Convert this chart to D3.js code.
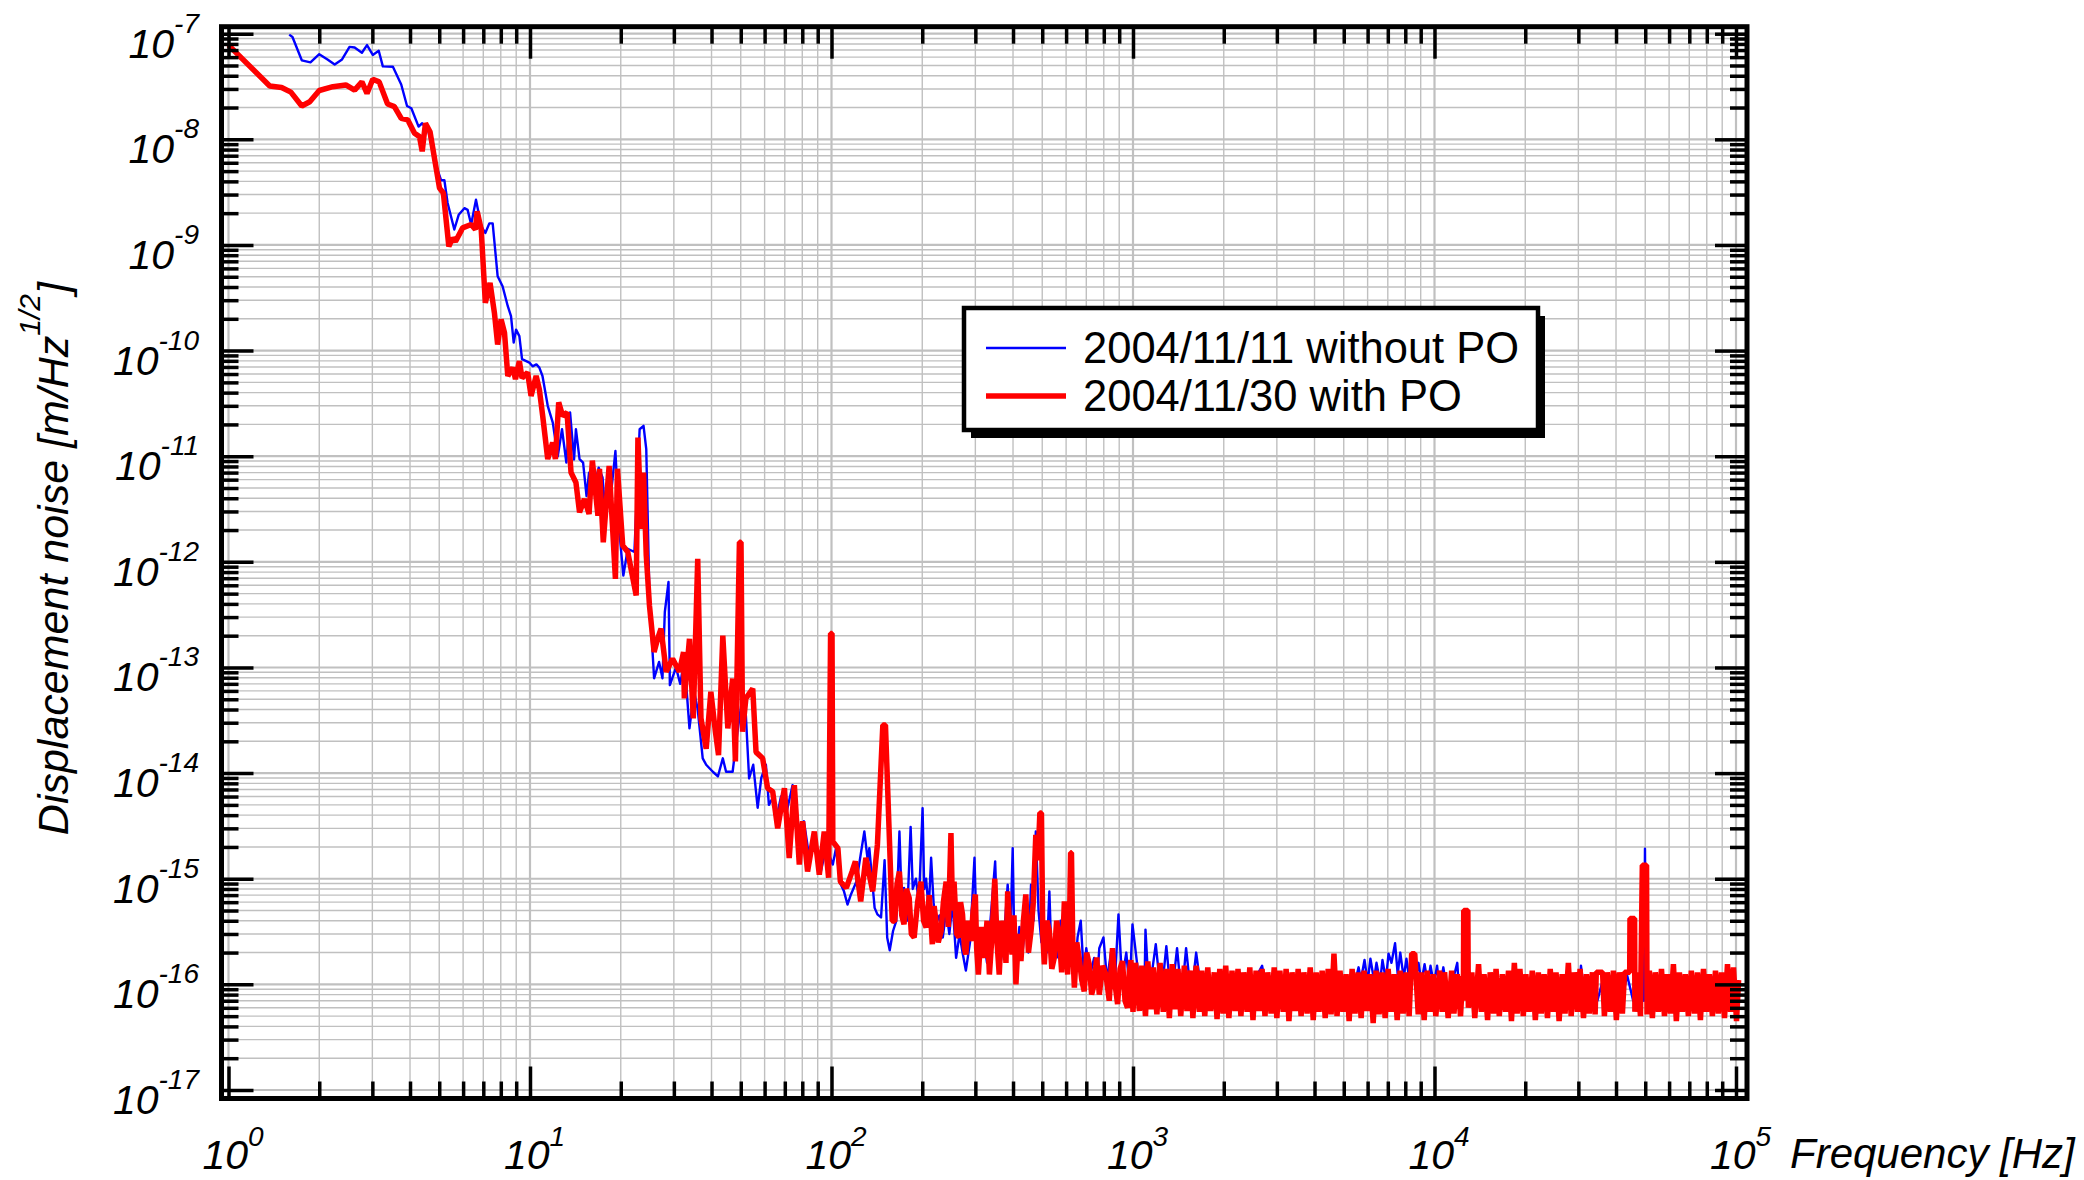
<!DOCTYPE html>
<html>
<head>
<meta charset="utf-8">
<script src="https://cdn.jsdelivr.net/npm/d3@7"></script>
<style>
  body { margin: 0; background: #fff; }
  svg { display: block; }
  text { font-family: "Liberation Sans", Arial, sans-serif; fill: #000; }
</style>
</head>
<body>
<svg width="2084" height="1180"></svg>
<script>
// tick exponents
var xTickExps = [0, 1, 2, 3, 4, 5];
var yTickExps = [-7, -8, -9, -10, -11, -12, -13, -14, -15, -16, -17];

var legendLabels = ["2004/11/11 without PO", "2004/11/30 with PO"];

// [frequency Hz, displacement noise m/Hz^1/2]
var blueLow = [[1.59,9.8e-8],[1.63,9.3e-8],[1.75,5.6e-8],[1.87,5.35e-8],[2.0,6.4e-8],[2.13,5.7e-8],[2.25,5.1e-8],[2.38,5.7e-8],[2.52,7.5e-8],[2.62,7.4e-8],[2.77,6.6e-8],[2.88,7.8e-8],[3.01,6.3e-8],[3.15,6.9e-8],[3.25,4.9e-8],[3.51,4.86e-8],[3.74,3.3e-8],[3.91,2.07e-8],[4.04,1.97e-8],[4.27,1.32e-8],[4.39,1.42e-8],[4.6,1.2e-8],[4.85,6e-9],[5.07,4.1e-9],[5.2,4.1e-9],[5.33,2.5e-9],[5.61,1.4e-9],[5.8,1.93e-9],[6.06,2.23e-9],[6.21,2.15e-9],[6.38,1.56e-9],[6.62,2.68e-9],[6.89,1.5e-9],[7.11,1.3e-9],[7.33,1.6e-9],[7.52,1.6e-9],[7.81,5.06e-10],[8.11,4.07e-10],[8.44,2.63e-10],[8.65,2.12e-10],[8.83,1.19e-10],[8.99,1.58e-10],[9.22,1.37e-10],[9.41,8.3e-11],[9.95,7.7e-11],[10.2,7.1e-11],[10.5,7.4e-11],[10.74,6.9e-11],[11.0,5.75e-11],[11.45,3.0e-11],[11.9,2.08e-11],[12.36,1.0e-11],[12.77,1.8e-11],[13.2,8.7e-12],[13.58,2.6e-11],[14.0,9.3e-12],[14.2,1.8e-11],[14.6,9.4e-12],[15.0,8.7e-12],[15.4,4.2e-12],[15.7,7.0e-12],[16.3,5e-12],[16.9,7.8e-12],[17.4,6.3e-12],[17.7,3.4e-12],[18.5,4e-12],[19.2,1.12e-11],[19.8,1.9e-12],[20.4,7.4e-13],[21.1,1.33e-12],[22.2,1.24e-12],[23.1,1.8e-11],[23.8,1.94e-11],[24.3,1.17e-11],[24.9,4.5e-13],[25.8,7.9e-14],[26.8,1.13e-13],[27.5,7.9e-14],[28.0,3.35e-13],[28.8,6.45e-13],[29.1,6.8e-14],[30.5,1.0e-13],[31.5,7.0e-14],[32.5,1.2e-13],[33.8,2.65e-14],[35.0,6.0e-14],[36.0,4e-14],[37.4,1.38e-14],[38.4,1.2e-14],[40.4,1.03e-14],[42.0,9.3e-15],[43.6,1.38e-14],[44.7,1.03e-14],[47.0,1.03e-14],[48.8,2.5e-14],[50.5,5e-14],[52.0,3.5e-14],[53.3,8.9e-15],[55.0,1.2e-14],[56.9,4.7e-15],[58.5,9e-15],[60.6,1.2e-14],[62.0,5e-15],[63.8,5.8e-15],[66.0,4e-15],[68.0,6e-15],[70.6,4.0e-15],[74.3,7.7e-15],[78.2,2.8e-15],[81.0,3.5e-15],[84.4,1.58e-15],[88.0,2.5e-15],[92.2,1.17e-15],[96.0,2e-15],[101,1.36e-15],[103.5,1.95e-15],[107,9e-16],[110,7.6e-16],[113,5.7e-16],[116,7.1e-16],[121,9.4e-16],[125,1.7e-15],[128.5,2.8e-15],[132,1.46e-15],[133.5,1.95e-15],[139,5.3e-16],[142,4.6e-16],[146,4.3e-16],[150,1.5e-15],[153,2.78e-16],[156,2.1e-16],[160,3.2e-16],[164,4e-16],[168,2.8e-15],[171,6e-16],[174,8.2e-16],[178,4e-16],[183,3.1e-15],[186,8e-16],[190.5,1.0e-15],[195,6e-16],[200.5,4.66e-15],[203,8e-16],[206,1.0e-15],[210,5e-16],[214,1.58e-15],[218,6e-16],[222,3.7e-16],[228,4.5e-16],[234,2.78e-16],[240,5e-16],[246,3e-16],[252,6e-16],[259,1.78e-16],[266,3e-16],[272,2e-16],[279,1.35e-16],[288,2.5e-16],[298,1.58e-15],[303,3e-16],[309,2.2e-16],[318,3e-16],[328,1.6e-16],[338,4.6e-16],[349,1.46e-15],[356,2.5e-16],[364,1.6e-16],[374,3e-16],[384,8.8e-16],[392,3e-16],[399,1.95e-15],[404,2.5e-16],[409,1.5e-16],[420,3.5e-16],[430,2e-16],[440,4e-16],[450,2e-16],[459,8.8e-16],[468,4e-16],[476,2.8e-15],[486,5e-16],[497,2.5e-16],[508,3e-16],[518,2e-16],[528,7.6e-16],[538,1.45e-16],[550,3e-16],[562,1.8e-16],[575,4e-16],[588,1.5e-16],[600,3e-16],[612,1.4e-16],[625,2.5e-16],[640,1.2e-16],[655,2.8e-16],[671,4.0e-16],[686,1.3e-16],[700,2.2e-16],[720,1.2e-16],[743,1.78e-16],[760,1.05e-16],[773,2.2e-16],[798,2.78e-16],[820,1.1e-16],[845,2e-16],[870,1e-16],[895,4.6e-16],[920,1.1e-16],[950,2e-16],[975,9e-17],[996,3.7e-16]];

var blueHigh = [[1040,1.3e-16],[1090,7e-17],[1100,3.3e-16],[1130,8e-17],[1190,2.4e-16],[1240,7.5e-17],[1290,2.3e-16],[1340,7e-17],[1400,2.2e-16],[1450,7.5e-17],[1500,2.2e-16],[1560,7.5e-17],[1620,2.0e-16],[1700,7e-17],[1780,1.25e-16],[1860,7.5e-17],[1950,1.3e-16],[2040,7e-17],[2140,1.2e-16],[2240,7.8e-17],[2340,1.25e-16],[2450,7e-17],[2570,1.2e-16],[2680,1.5e-16],[2810,7.2e-17],[2940,1.2e-16],[3080,7.5e-17],[3220,1.15e-16],[3370,7e-17],[3530,1.2e-16],[3700,7.5e-17],[3870,1.15e-16],[4050,7e-17],[4240,1.2e-16],[4440,7.5e-17],[4650,1.15e-16],[4870,7.2e-17],[5100,1.2e-16],[5340,8e-17],[5600,1.45e-16],[5700,1.1e-16],[5860,1.7e-16],[6000,1.05e-16],[6130,1.75e-16],[6300,1.1e-16],[6420,1.6e-16],[6600,1.05e-16],[6720,1.7e-16],[6900,1.1e-16],[7040,1.95e-16],[7200,1.6e-16],[7400,2.45e-16],[7550,1.25e-16],[7700,2.0e-16],[7900,1.15e-16],[8070,1.75e-16],[8250,1.1e-16],[8450,1.65e-16],[8650,1.1e-16],[8850,1.6e-16],[9050,1.05e-16],[9270,1.55e-16],[9500,1.0e-16],[9700,1.5e-16],[9950,1.0e-16],[10200,1.5e-16],[10400,9e-17],[10700,1.45e-16],[11000,8.5e-17],[11600,1.2e-16],[11900,1.6e-16],[12100,7.5e-17],[12700,1.15e-16],[13300,7e-17],[13900,1.2e-16],[14600,7.2e-17],[15300,1.15e-16],[16000,7e-17],[16700,1.2e-16],[17500,7.5e-17],[18300,1.15e-16],[19200,7e-17],[20100,1.15e-16],[21000,7e-17],[22000,1.2e-16],[23000,7.2e-17],[24100,1.15e-16],[25200,6.8e-17],[26400,1.2e-16],[27600,7e-17],[28900,1.15e-16],[30200,7e-17],[30600,1.5e-16],[31600,7.2e-17],[33100,1.2e-16],[34700,7e-17],[36300,1.15e-16],[38000,7e-17],[39800,1.15e-16],[41600,7.2e-17],[43600,1.2e-16],[45600,7e-17],[47700,1.15e-16],[49500,7e-17],[49900,1.93e-15],[50300,7e-17],[52300,1.15e-16],[54700,7e-17],[57300,1.2e-16],[60000,7e-17],[62800,1.15e-16],[65700,7.2e-17],[68800,1.2e-16],[72000,7e-17],[75400,1.15e-16],[78900,7e-17],[82600,1.2e-16],[86400,7.2e-17],[90500,1.15e-16],[94700,7e-17],[99100,1.15e-16],[101500,8e-17]];

var redLow = [[1.0,7.8e-8],[1.37,3.2e-8],[1.5,3.1e-8],[1.61,2.8e-8],[1.75,2.07e-8],[1.86,2.27e-8],[2.0,2.9e-8],[2.22,3.15e-8],[2.45,3.27e-8],[2.62,2.92e-8],[2.77,3.5e-8],[2.88,2.72e-8],[3.01,3.7e-8],[3.16,3.5e-8],[3.37,2.16e-8],[3.55,2.04e-8],[3.74,1.58e-8],[3.93,1.53e-8],[4.14,1.14e-8],[4.3,1.06e-8],[4.39,7.7e-9],[4.5,1.42e-8],[4.66,1.18e-8],[5.01,3.45e-9],[5.16,3.1e-9],[5.38,9.7e-10],[5.54,1.16e-9],[5.66,1.08e-9],[5.98,1.45e-9],[6.38,1.56e-9],[6.59,1.4e-9],[6.68,2.08e-9],[6.89,1.4e-9],[7.11,2.83e-10],[7.37,4.37e-10],[7.62,2.28e-10],[7.81,1.14e-10],[8.02,1.97e-10],[8.23,1.48e-10],[8.44,5.75e-11],[8.77,6.9e-11],[8.95,5.37e-11],[9.22,7.96e-11],[9.41,5.5e-11],[9.82,6.2e-11],[10.08,3.72e-11],[10.48,5.75e-11],[10.74,4.3e-11],[11.02,2.4e-11],[11.45,9.4e-12],[11.89,1.35e-11],[12.14,9.4e-12],[12.45,3.24e-11],[12.83,2.4e-11],[13.27,2.6e-11],[13.68,7.0e-12],[14.2,5.65e-12],[14.6,2.94e-12],[15.15,3.94e-12],[15.7,2.84e-12],[16.1,9.1e-12],[16.8,2.73e-12],[17.0,7.6e-12],[17.5,1.53e-12],[18.3,8.1e-12],[19.2,6.9e-13],[19.5,7.6e-12],[20.3,1.43e-12],[21.1,1.24e-12],[22.5,4.8e-13],[22.8,1.5e-11],[23.4,2.05e-12],[23.8,7.0e-12],[24.3,1.15e-12],[24.9,3.87e-13],[25.8,1.4e-13],[26.5,1.87e-13],[27.2,2.33e-13],[28.3,9.1e-14],[29.7,1.21e-13],[31.3,9.1e-14],[32.3,1.4e-13],[32.5,5.1e-14],[33.8,1.87e-13],[34.8,3.3e-14],[36.0,1.07e-12],[36.9,3.3e-14],[38.4,1.7e-14],[39.8,5.9e-14],[41.2,2.47e-14],[42.2,1.48e-14],[43.6,2.0e-13],[45.3,2.65e-14],[47.0,7.85e-14],[48.0,1.29e-14],[49.5,1.53e-12],[50.1,1.53e-12],[50.7,2.47e-14],[52.0,5.1e-14],[54.8,6.3e-14],[56.2,1.58e-14],[59.1,1.38e-14],[61.4,7.2e-15],[63.8,6.7e-15],[66.3,3.0e-15],[69.8,7.2e-15],[72.4,1.57e-15],[75.3,7.7e-15],[78.2,1.36e-15],[80.2,3.5e-15],[83.3,1.17e-15],[87.7,2.8e-15],[91.1,1.09e-15],[94.6,2.8e-15],[97.8,1.02e-15],[99.3,2.1e-13],[100.4,2.1e-13],[101,2.25e-15],[105,1.95e-15],[107,9.4e-16],[112,8.2e-16],[117,1.17e-15],[120,1.46e-15],[125,6.1e-16],[130,1.58e-15],[137,7.6e-16],[142,2.1e-15],[148,2.85e-14],[151,2.85e-14],[156,1.95e-15],[159,4e-16],[162,3.95e-16],[165,9e-16],[168,1.17e-15],[171,4.5e-16],[174,3.7e-16],[177,8e-16],[181,6.6e-16],[184,3e-16],[188,2.78e-16],[193,6e-16],[198,9.4e-16],[202,4e-16],[206,3.45e-16],[211,7e-16],[216,2.4e-16],[219,5.5e-16],[222,4.0e-16],[226,2.5e-16],[231,3.2e-16],[235,6e-16],[240,9.4e-16],[244,3.5e-16],[249,2.7e-15],[252,5e-16],[255,9.4e-16],[260,3e-16],[265,2.78e-16],[268,6e-16],[272,4.6e-16],[276,2.2e-16],[279,1.92e-16],[284,4e-16],[290,2.57e-16],[295,5e-16],[300,7.1e-16],[303,2.2e-16],[307,1.24e-16],[314,3.5e-16],[321,1.78e-16],[328,4e-16],[334,1.24e-16],[341,3e-16],[348,1.0e-15],[354,2.5e-16],[360,1.24e-16],[367,4e-16],[374,3.2e-16],[379,1.6e-16],[384,7.6e-16],[391,3e-16],[397,1.92e-16],[403,4.5e-16],[409,1.0e-16],[417,3e-16],[425,1.66e-16],[433,4e-16],[441,7.1e-16],[450,2e-16],[459,3.2e-16],[467,6e-16],[476,2.6e-15],[484,1.5e-15],[491,4.2e-15],[497,4.2e-15],[502,3e-16],[508,1.55e-16],[518,4e-16],[528,3.2e-16],[538,1.4e-16],[548,1.78e-16],[558,4e-16],[569,2.95e-16],[580,1.3e-16],[592,6.1e-16],[600,2.5e-16],[607,1.24e-16],[615,3e-16],[621,1.76e-15],[625,1.76e-15],[632,2e-16],[639,9.3e-17],[651,2.5e-16],[663,1.78e-16],[676,1.1e-16],[689,8.6e-17],[702,2e-16],[716,1.55e-16],[729,8e-17],[743,1.0e-16],[758,1.8e-16],[773,8.0e-17],[793,1.5e-16],[813,1.24e-16],[834,7e-17],[855,2.2e-16],[872,1e-16],[889,6.5e-17],[906,1.4e-16],[923,1.66e-16],[941,7e-17],[959,6.0e-17],[972,1.3e-16],[984,1.7e-16]];

var redHigh = [[1000,5.5e-17],[1020,1.6e-16],[1050,5.6e-17],[1070,1.5e-16],[1100,5e-17],[1120,1.65e-16],[1150,5.8e-17],[1170,1.45e-16],[1200,5.2e-17],[1230,1.6e-16],[1260,5.5e-17],[1290,1.4e-16],[1320,4.8e-17],[1350,1.55e-16],[1380,5.8e-17],[1410,1.4e-16],[1440,5e-17],[1480,1.5e-16],[1510,5.6e-17],[1550,1.35e-16],[1580,4.8e-17],[1620,1.5e-16],[1660,5.5e-17],[1690,1.35e-16],[1730,5e-17],[1770,1.45e-16],[1810,5.6e-17],[1860,1.3e-16],[1900,4.7e-17],[1940,1.4e-16],[1990,5.3e-17],[2030,1.5e-16],[2080,4.8e-17],[2130,1.35e-16],[2180,5.6e-17],[2230,1.4e-16],[2280,5e-17],[2330,1.3e-16],[2390,5.5e-17],[2440,1.45e-16],[2500,4.6e-17],[2560,1.35e-16],[2620,5.6e-17],[2680,1.4e-16],[2740,5e-17],[2800,1.3e-16],[2870,5.3e-17],[2940,1.45e-16],[3000,4.8e-17],[3070,1.35e-16],[3150,5.5e-17],[3220,1.4e-16],[3290,4.5e-17],[3370,1.3e-16],[3450,5.6e-17],[3530,1.4e-16],[3610,5e-17],[3690,1.3e-16],[3780,5.3e-17],[3870,1.45e-16],[3960,4.6e-17],[4050,1.3e-16],[4140,5.5e-17],[4240,1.35e-16],[4340,4.8e-17],[4440,1.4e-16],[4540,5.2e-17],[4640,1.95e-16],[4750,5e-17],[4860,1.35e-16],[4970,5.5e-17],[5090,1.25e-16],[5210,4.5e-17],[5330,1.4e-16],[5450,5.3e-17],[5580,1.3e-16],[5710,4.8e-17],[5840,1.35e-16],[5980,5.6e-17],[6110,1.25e-16],[6260,4.3e-17],[6400,1.35e-16],[6550,5.2e-17],[6700,1.3e-16],[6860,4.8e-17],[7020,1.4e-16],[7180,5.5e-17],[7350,1.25e-16],[7520,4.6e-17],[7690,1.35e-16],[7870,5.3e-17],[8050,1.3e-16],[8240,5e-17],[8400,1.95e-16],[8600,1.95e-16],[8830,5.2e-17],[9030,1.3e-16],[9240,4.6e-17],[9450,1.35e-16],[9670,5.5e-17],[9900,1.25e-16],[10100,5e-17],[10400,1.35e-16],[10600,5.5e-17],[10800,1.3e-16],[11100,4.8e-17],[11400,1.35e-16],[11600,5.3e-17],[11900,1.25e-16],[12200,5e-17],[12400,1.2e-16],[12470,7e-17],[12500,5.0e-16],[12900,5.0e-16],[12950,6e-17],[13300,1.3e-16],[13600,4.8e-17],[14000,1.55e-16],[14300,5.5e-17],[14600,1.25e-16],[15000,4.6e-17],[15300,1.3e-16],[15700,5.3e-17],[16000,1.4e-16],[16400,5e-17],[16800,1.25e-16],[17200,5.5e-17],[17600,1.35e-16],[18000,4.5e-17],[18400,1.6e-16],[18800,5.3e-17],[19200,1.4e-16],[19700,5e-17],[20100,1.25e-16],[20600,5.5e-17],[21100,1.35e-16],[21600,4.6e-17],[22100,1.3e-16],[22600,5.3e-17],[23100,1.25e-16],[23700,4.8e-17],[24200,1.4e-16],[24800,5.5e-17],[25300,1.3e-16],[25900,4.5e-17],[26500,1.25e-16],[27100,5.3e-17],[27800,1.6e-16],[28400,5e-17],[29100,1.3e-16],[29800,5.5e-17],[30400,1.4e-16],[31200,4.8e-17],[31900,1.25e-16],[32600,5.3e-17],[33400,1.3e-16],[34100,5.2e-17],[34400,1.3e-16],[36100,1.3e-16],[36600,5e-17],[37400,1.3e-16],[38300,5.5e-17],[39200,1.35e-16],[40100,4.6e-17],[41000,1.3e-16],[42000,5.3e-17],[42700,1.3e-16],[44400,1.3e-16],[44500,4.2e-16],[46100,4.2e-16],[46200,5.5e-17],[47100,1.3e-16],[48200,5e-17],[48900,1.34e-15],[50500,1.34e-15],[50700,5.2e-17],[51600,1.35e-16],[52800,4.8e-17],[54000,1.3e-16],[55300,5.5e-17],[56600,1.4e-16],[57900,5e-17],[59200,1.25e-16],[60600,5.3e-17],[62000,1.55e-16],[63400,4.5e-17],[64900,1.3e-16],[66400,5.5e-17],[67900,1.25e-16],[69500,5e-17],[71100,1.35e-16],[72800,5.3e-17],[74500,1.3e-16],[76200,4.6e-17],[78000,1.4e-16],[79800,5.5e-17],[81600,1.25e-16],[83500,5e-17],[85500,1.35e-16],[87400,5.3e-17],[89500,1.3e-16],[91600,4.8e-17],[93700,1.55e-16],[95900,5.5e-17],[98100,1.45e-16],[100400,4.5e-17],[102000,1.1e-16]];

var svg = d3.select("svg"),
  width = +svg.attr("width"),
  height = +svg.attr("height");

var x = d3.scaleLog().domain([1, 1e5]).range([228.5, 1736]);
var y = d3.scaleLog().domain([1e-17, 1e-7]).range([1090, 33.7]);

// frame sits a little outside the data range
var fLeft = x(1) - 7, fRight = x(1e5) + 11,
  fTop = y(1e-7) - 7, fBottom = y(1e-17) + 8.5;

function isMajor(d) {
  var l = Math.log10(d);
  return Math.abs(l - Math.round(l)) < 1e-6;
}

var xAll = x.ticks(20), yAll = y.ticks(20);
var xMajor = xAll.filter(isMajor), xMinor = xAll.filter(function(d) { return !isMajor(d); });
var yMajor = yAll.filter(isMajor), yMinor = yAll.filter(function(d) { return !isMajor(d); });

// grid
var grid = svg.append("g").attr("class", "grid");
grid.selectAll("line.gx")
  .data(xAll)
  .enter().append("line")
  .attr("x1", function(d) { return x(d); })
  .attr("x2", function(d) { return x(d); })
  .attr("y1", fTop).attr("y2", fBottom)
  .style("stroke", "#c0c0c0")
  .style("stroke-width", function(d) { return isMajor(d) ? 2.2 : 1.4; });
grid.selectAll("line.gy")
  .data(yAll)
  .enter().append("line")
  .attr("y1", function(d) { return y(d); })
  .attr("y2", function(d) { return y(d); })
  .attr("x1", fLeft).attr("x2", fRight)
  .style("stroke", "#c0c0c0")
  .style("stroke-width", function(d) { return isMajor(d) ? 2.2 : 1.4; });

// curves
svg.append("clipPath").attr("id", "clip")
  .append("rect")
  .attr("x", fLeft).attr("y", fTop)
  .attr("width", fRight - fLeft).attr("height", fBottom - fTop);

var line = d3.line()
  .x(function(d) { return x(d[0]); })
  .y(function(d) { return y(d[1]); });

var curves = svg.append("g").attr("clip-path", "url(#clip)");
curves.append("path")
  .datum(blueLow.concat(blueHigh))
  .attr("d", line)
  .style("fill", "none")
  .style("stroke", "#0000ff")
  .style("stroke-width", 2.4)
  .style("stroke-linejoin", "round");
curves.append("path")
  .datum(redLow.concat(redHigh))
  .attr("d", line)
  .style("fill", "none")
  .style("stroke", "#ff0000")
  .style("stroke-width", 5.5)
  .style("stroke-linejoin", "bevel");

// ticks, drawn inward on all four sides
function styleTicks(g) {
  g.select(".domain").remove();
  g.selectAll(".tick line").style("stroke", "#000").style("stroke-width", 3.5);
}
var minorLen = 17, majorLen = 32;
[[xMinor, minorLen], [xMajor, majorLen]].forEach(function(p) {
  svg.append("g").attr("transform", "translate(0," + fBottom + ")")
    .call(d3.axisBottom(x).tickValues(p[0]).tickSize(-p[1]).tickFormat(""))
    .call(styleTicks);
  svg.append("g").attr("transform", "translate(0," + fTop + ")")
    .call(d3.axisTop(x).tickValues(p[0]).tickSize(-p[1]).tickFormat(""))
    .call(styleTicks);
});
[[yMinor, minorLen], [yMajor, majorLen]].forEach(function(p) {
  svg.append("g").attr("transform", "translate(" + fLeft + ",0)")
    .call(d3.axisLeft(y).tickValues(p[0]).tickSize(-p[1]).tickFormat(""))
    .call(styleTicks);
  svg.append("g").attr("transform", "translate(" + fRight + ",0)")
    .call(d3.axisRight(y).tickValues(p[0]).tickSize(-p[1]).tickFormat(""))
    .call(styleTicks);
});

// frame
svg.append("rect")
  .attr("x", fLeft).attr("y", fTop)
  .attr("width", fRight - fLeft).attr("height", fBottom - fTop)
  .style("fill", "none")
  .style("stroke", "#000")
  .style("stroke-width", 5);

// tick labels 10^n
svg.selectAll(".ylab")
  .data(yTickExps)
  .enter().append("text")
  .attr("class", "ylab")
  .attr("x", 199)
  .attr("y", function(d) { return y(Math.pow(10, d)) + 24; })
  .attr("text-anchor", "end")
  .style("font-style", "italic")
  .style("font-size", "41px")
  .each(function(d) {
    var t = d3.select(this);
    t.append("tspan").text("10");
    t.append("tspan").attr("dy", -25).style("font-size", "28px").text(d);
  });

svg.selectAll(".xlab")
  .data(xTickExps)
  .enter().append("text")
  .attr("class", "xlab")
  .attr("x", function(d) { return x(Math.pow(10, d)) - 26; })
  .attr("y", 1169)
  .style("font-style", "italic")
  .style("font-size", "41px")
  .each(function(d) {
    var t = d3.select(this);
    t.append("tspan").text("10");
    t.append("tspan").attr("dy", -23).style("font-size", "28px").text(d);
  });

// axis titles
svg.append("text")
  .attr("x", 1790)
  .attr("y", 1168)
  .style("font-style", "italic")
  .style("font-size", "42px")
  .text("Frequency [Hz]");

var yt = svg.append("text")
  .attr("transform", "translate(68," + ((fTop + fBottom) / 2 - 4) + ") rotate(-90)")
  .attr("text-anchor", "middle")
  .style("font-style", "italic")
  .style("font-size", "43px");
yt.append("tspan").text("Displacement noise [m/Hz");
yt.append("tspan").attr("dy", -28).style("font-size", "30px").text("1/2");
yt.append("tspan").attr("dy", 28).text("]");

// legend
var lg = svg.append("g").attr("transform", "translate(964,308)");
lg.append("rect")
  .attr("x", 7).attr("y", 8)
  .attr("width", 574).attr("height", 122)
  .style("fill", "#000");
lg.append("rect")
  .attr("width", 574).attr("height", 122)
  .style("fill", "#fff")
  .style("stroke", "#000")
  .style("stroke-width", 4.5);

var entries = lg.selectAll(".entry")
  .data(legendLabels)
  .enter().append("g")
  .attr("transform", function(d, i) { return "translate(0," + (40 + i * 48) + ")"; });
entries.append("line")
  .attr("x1", 22).attr("x2", 102)
  .style("stroke", function(d, i) { return i ? "#ff0000" : "#0000ff"; })
  .style("stroke-width", function(d, i) { return i ? 5.5 : 2.4; });
entries.append("text")
  .attr("x", 119)
  .attr("y", 15)
  .style("font-size", "43.5px")
  .text(function(d) { return d; });
</script>
</body>
</html>
